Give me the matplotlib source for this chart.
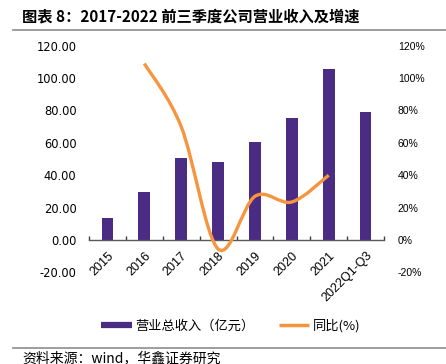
import matplotlib
matplotlib.use("Agg")
import matplotlib.pyplot as plt
import numpy as np
from matplotlib.path import Path
from matplotlib.patches import PathPatch
from matplotlib.lines import Line2D
import matplotlib.ticker as mticker

categories = ["2015", "2016", "2017", "2018", "2019", "2020", "2021", "2022Q1-Q3"]
revenue = [13.9, 29.4, 50.6, 47.9, 60.8, 75.3, 105.5, 79.1]
yoy = [None, 109.0, 70.0, -5.5, 27.0, 23.5, 40.0, None]
left_ticks = [-20, 0, 20, 40, 60, 80, 100, 120]

PURPLE = "#4B2C84"
ORANGE = "#F7953F"
CJK = ["Noto Sans CJK SC", "DejaVu Sans"]

fig = plt.figure(figsize=(4.46, 3.64), dpi=100)
ax = fig.add_axes([0.1996, 0.2516, 0.6614, 0.6229])
ax2 = ax.twinx()

x = np.arange(len(categories))
ax.bar(x, revenue, width=0.32, color=PURPLE, zorder=2)

# smoothed line (Bezier through the data points)
pts = [(i, v) for i, v in enumerate(yoy) if v is not None]
P = np.array(pts, dtype=float)
verts = [tuple(P[0])]
codes = [Path.MOVETO]
n = len(P)
for i in range(n - 1):
    p0 = P[i - 1] if i > 0 else P[i]
    p1 = P[i]
    p2 = P[i + 1]
    p3 = P[i + 2] if i + 2 < n else P[i + 1]
    c1 = p1 + (p2 - p0) / 6.0
    c2 = p2 - (p3 - p1) / 6.0
    verts += [tuple(c1), tuple(c2), tuple(p2)]
    codes += [Path.CURVE4] * 3
ax2.add_patch(PathPatch(Path(verts, codes), facecolor="none", edgecolor=ORANGE,
                        lw=2.4, capstyle="butt", zorder=3))

for a in (ax, ax2):
    a.set_ylim(-20, 120)
    a.set_xlim(-0.5, len(categories) - 0.5)
    for s in ("top", "left", "right"):
        a.spines[s].set_visible(False)
ax2.spines["bottom"].set_visible(False)

ax.spines["bottom"].set_position(("data", 0))
ax.spines["bottom"].set_color("#595959")
ax.spines["bottom"].set_linewidth(1.0)

ax.set_yticks(left_ticks)
ax.yaxis.set_major_formatter(mticker.FuncFormatter(lambda v, p: f"{v:.2f}"))
ax.tick_params(axis="y", length=0, pad=9, labelsize=8.3)
for t in ax.get_yticklabels():
    t.set_fontfamily("DejaVu Sans")

ax2.set_yticks(left_ticks)
ax2.yaxis.set_major_formatter(mticker.FuncFormatter(lambda v, p: f"{int(v)}%"))
ax2.tick_params(axis="y", length=0, pad=10, labelsize=7.5)
for t in ax2.get_yticklabels():
    t.set_fontfamily("Liberation Sans")

ax.set_xticks(x)
ax.set_xticklabels(categories, rotation=45, ha="right", va="top",
                   rotation_mode="anchor", fontsize=9, fontfamily="Liberation Sans")
ax.tick_params(axis="x", which="major", length=0, pad=7)
ax.set_xticks(np.arange(-0.5, len(categories), 1.0), minor=True)
ax.tick_params(axis="x", which="minor", direction="in", length=3, color="#404040", width=1)

# Title and rules
fig.text(0.05, 0.955, "图表 8：2017-2022 前三季度公司营业收入及增速", fontsize=11.0,
         fontweight="bold", fontfamily=CJK, va="center", ha="left")
fig.add_artist(Line2D([0.03, 1.0], [0.917, 0.917], color="#8c8c8c", lw=1.2))
fig.add_artist(Line2D([0.03, 1.0], [0.045, 0.045], color="#8c8c8c", lw=1.2))
fig.text(0.05, 0.016, "资料来源：wind，华鑫证券研究", fontsize=10,
         fontfamily=CJK, va="center", ha="left")

handles = [Line2D([], [], color=PURPLE, lw=4.5, solid_capstyle="butt"),
           Line2D([], [], color=ORANGE, lw=2.5, solid_capstyle="butt")]
leg = fig.legend(handles, ["营业总收入（亿元）", "同比(%)"], loc="center",
                 bbox_to_anchor=(0.518, 0.104), ncol=2, frameon=False,
                 prop={"family": CJK, "size": 9.5}, handlelength=2.3,
                 handletextpad=0.3, columnspacing=1.8)

fig.savefig("out.png", dpi=100)
